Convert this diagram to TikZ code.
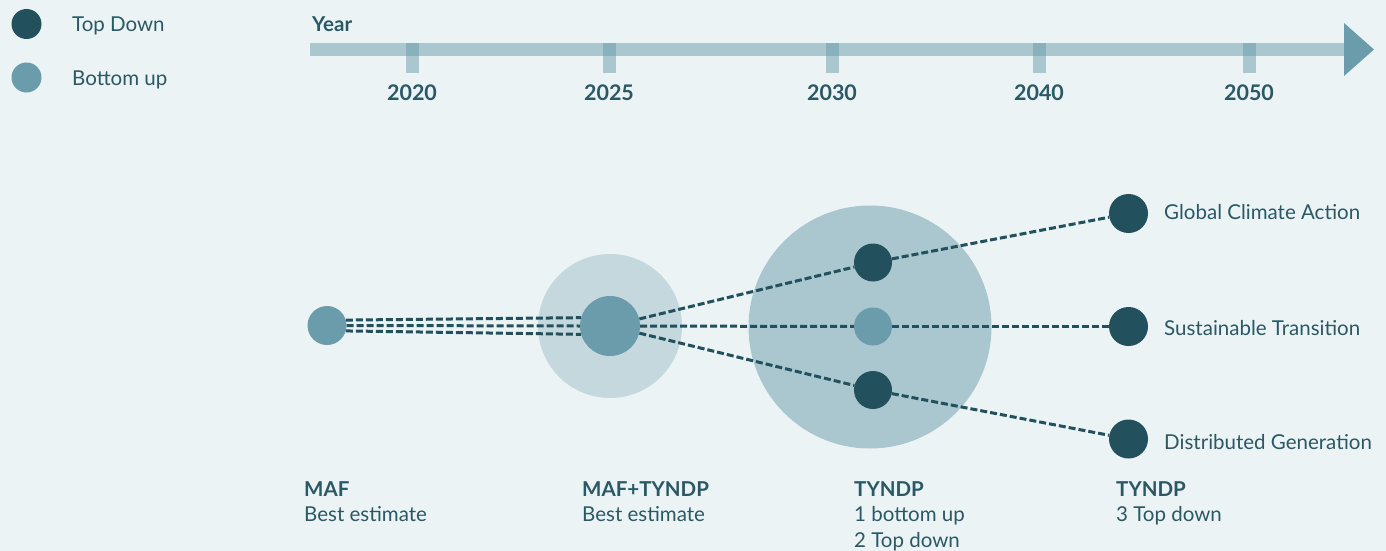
\documentclass[tikz,border=0pt]{standalone}
\usepackage{fontspec}
\setmainfont{Lato}
\usetikzlibrary{shapes,arrows,positioning}
\definecolor{bgcol}{HTML}{EBF3F5}
\definecolor{topdown}{HTML}{22505C}
\definecolor{bottomup}{HTML}{6A9CAB}
\definecolor{txtcol}{HTML}{2A5864}
\tikzstyle{every node}=[font=\fontsize{20.5}{25.5}\selectfont, text=txtcol]
\tikzstyle{tddot} = [circle, fill=topdown, minimum size=38pt, inner sep=0pt]
\tikzstyle{budot} = [circle, fill=bottomup, minimum size=38pt, inner sep=0pt]
\tikzstyle{halo} = [circle, fill=bottomup, inner sep=0pt]
\tikzstyle{barpart} = [fill=bottomup, opacity=0.5]
\tikzstyle{scen} = [draw=topdown, line width=3pt, dash pattern=on 7pt off 3pt]
\tikzstyle{stage} = [anchor=north west, align=left, inner sep=0pt]

\begin{document}
\begin{tikzpicture}[x=1pt, y=-1pt]
	\useasboundingbox[fill=bgcol] (0,0) rectangle (1386,551);

	% Legend
	\node [tddot, minimum size=30pt] (legtd) at (26.5,24) {};
	\node [budot, minimum size=30pt] (legbu) at (26.5,77.5) {};
	\node [anchor=base west, inner sep=0pt] (legtdtext) at (72,32) {Top Down};
	\node [anchor=base west, inner sep=0pt] (legbutext) at (72,85) {Bottom up};

	% Timeline
	\node [anchor=base west, inner sep=0pt, font=\fontsize{20.5}{25.5}\selectfont\bfseries] (year) at (312,32) {Year};
	\fill [barpart] (310,43) rectangle (1344,56);
	\fill [bottomup] (1344,23) -- (1374,49.5) -- (1344,76) -- cycle;
	\foreach \yr/\x in {2020/412, 2025/609, 2030/832, 2040/1039, 2050/1249} {
		\fill [barpart] (\x-6.5,43) rectangle (\x+6.5,72.5);
		\node [anchor=base, inner sep=0pt, font=\fontsize{21.5}{25.5}\selectfont\bfseries] (y\yr) at (\x,100.5) {\yr};
	}

	% Place nodes
	\node [halo, minimum size=144pt, fill opacity=0.3] (esthalo) at (610,326) {};
	\node [halo, minimum size=243pt, fill opacity=0.5] (tyndphalo) at (870,327) {};
	\node [budot, minimum size=39pt] (maf) at (327,325.5) {};
	\node [budot, minimum size=60pt] (est) at (610,326) {};
	\node [tddot] (tda) at (873,262.5) {};
	\node [budot] (tbu) at (873,326.5) {};
	\node [tddot] (tdb) at (873,390) {};
	\node [tddot, minimum size=39pt] (gca) at (1128.5,213.5) {};
	\node [tddot, minimum size=39pt] (st) at (1128.5,326.5) {};
	\node [tddot, minimum size=39pt] (dg) at (1128.5,439) {};

	% Scenario lines
	\draw [scen] (maf.16) -- (est.164);
	\draw [scen] (maf.east) -- (est.west);
	\draw [scen] (maf.-16) -- (est.-164);
	\draw [scen] (est) -- (tda);
	\draw [scen] (est) -- (tbu);
	\draw [scen] (est) -- (tdb);
	\draw [scen] (tda) -- (gca);
	\draw [scen] (tbu) -- (st);
	\draw [scen] (tdb) -- (dg);

	% Scenario names
	\node [anchor=base west, inner sep=0pt] (gcatext) at (1164,219) {Global Climate Action};
	\node [anchor=base west, inner sep=0pt] (sttext) at (1164,335) {Sustainable Transition};
	\node [anchor=base west, inner sep=0pt] (dgtext) at (1164,449) {Distributed Generation};

	% Stages
	\node [stage] (mafstage) at (304,481) {\textbf{MAF}\\Best estimate};
	\node [stage] (eststage) at (582,481) {\textbf{MAF+TYNDP}\\Best estimate};
	\node [stage] (tyndpstage) at (854,481) {\textbf{TYNDP}\\1 bottom up\\2 Top down};
	\node [stage] (tdstage) at (1116,481) {\textbf{TYNDP}\\3 Top down};
\end{tikzpicture}
\end{document}
